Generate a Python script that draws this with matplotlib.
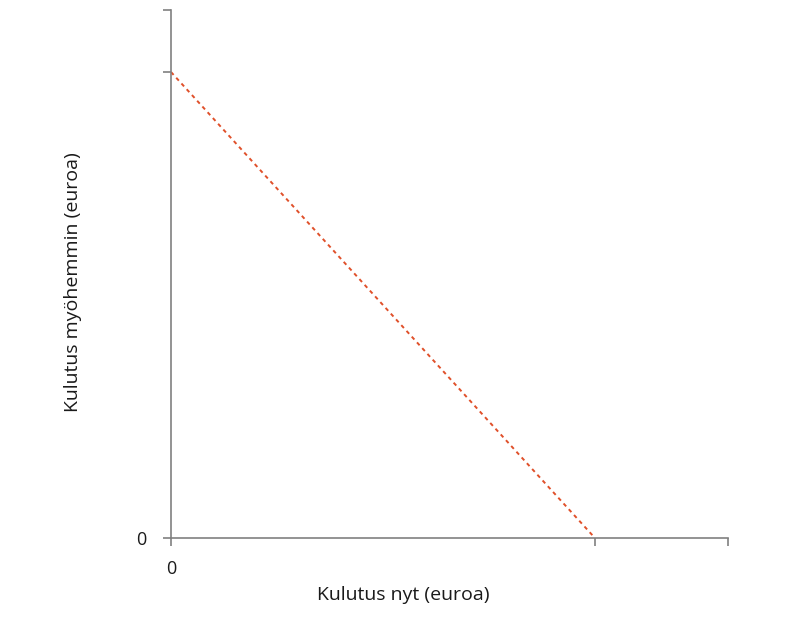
import matplotlib
matplotlib.use("Agg")
import matplotlib.pyplot as plt

# budget line: consumption now vs consumption later
budget_x = [0, 100]
budget_y = [100, 0]

x_ticks = [0, 100, 131.4]
x_tick_labels = ["0", "", ""]
y_ticks = [0, 100, 113.3]
y_tick_labels = ["0", "", ""]

plt.rcParams["font.family"] = ["Open Sans", "DejaVu Sans"]

fig = plt.figure(figsize=(8.1, 6.19), dpi=100)
ax = fig.add_axes([0.2111, 0.1309, 0.6877, 0.8529])

ax.plot(budget_x, budget_y, color="#e0502a", linestyle=(0, (2, 2)), linewidth=1.4)

ax.set_xlim(0, 131.4)
ax.set_ylim(0, 113.3)
ax.set_xticks(x_ticks)
ax.set_xticklabels(x_tick_labels)
ax.set_yticks(y_ticks)
ax.set_yticklabels(y_tick_labels)

for side in ["top", "right"]:
    ax.spines[side].set_visible(False)
for side in ["left", "bottom"]:
    ax.spines[side].set_color("#808080")
    ax.spines[side].set_linewidth(1.2)

ax.tick_params(axis="both", colors="#808080", length=6, width=1.2,
               labelcolor="#1a1a1a", labelsize=13)
ax.tick_params(axis="x", pad=10)
ax.tick_params(axis="y", pad=11.5)

ax.set_xlabel("Kulutus nyt (euroa)", fontsize=14, color="#1a1a1a")
ax.set_ylabel("Kulutus myöhemmin (euroa)", fontsize=14, color="#1a1a1a")
ax.xaxis.set_label_coords(0.4165, -0.108)
ax.xaxis.label.set_verticalalignment("center")
ax.yaxis.set_label_coords(-0.176, 0.485)
ax.yaxis.label.set_verticalalignment("center")

fig.savefig("out.png", dpi=100)
